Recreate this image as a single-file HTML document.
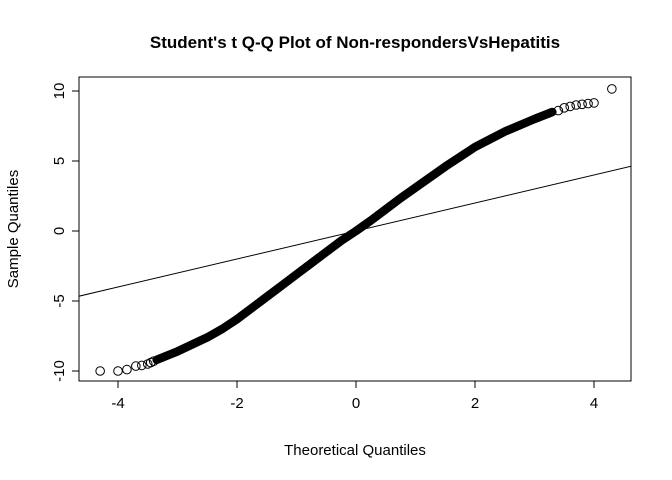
<!DOCTYPE html>
<html><head><meta charset="utf-8"><style>
body{margin:0;background:#fff;}
svg{display:block;font-family:"Liberation Sans",Arial,sans-serif;}
</style></head><body>
<svg id="chart" width="672" height="480">
<text x="355" y="48" text-anchor="middle" font-size="17" font-weight="bold">Student's t Q-Q Plot of Non-respondersVsHepatitis</text>
<rect x="79" y="77" width="552" height="304" fill="none" stroke="#000"/>
<text x="355" y="455" text-anchor="middle" font-size="15">Theoretical Quantiles</text>
<text transform="translate(18,229) rotate(-90)" text-anchor="middle" font-size="15">Sample Quantiles</text>
<g id="axes"></g><g id="marks"></g>
</svg>
<script>
const xTicks=[-4,-2,0,2,4];
const yTicks=[-10,-5,0,5,10];
const curveT=[-3.35,-3,-2.75,-2.5,-2.25,-2,-1.75,-1.5,-1.25,-1,-0.75,-0.5,-0.25,0,0.25,0.5,0.75,1,1.25,1.5,1.75,2,2.25,2.5,2.75,3,3.3];
const curveS=[-9.2,-8.6,-8.1,-7.6,-7.0,-6.3,-5.5,-4.7,-3.9,-3.1,-2.3,-1.5,-0.7,0,0.75,1.55,2.35,3.1,3.85,4.6,5.3,6.0,6.55,7.1,7.55,8.0,8.5];
const tailT=[-4.3,-4.0,-3.85,-3.7,-3.6,-3.5,-3.45,-3.4,3.4,3.5,3.6,3.7,3.8,3.9,4.0,4.3];
const tailS=[-10,-10,-9.9,-9.65,-9.6,-9.5,-9.4,-9.3,8.6,8.8,8.9,9.0,9.05,9.1,9.15,10.15];
const lineIntercept=0, lineSlope=1.0;
const X=v=>356+v*59.5, Y=v=>231-v*14;
const NS='http://www.w3.org/2000/svg';
const ax=document.getElementById('axes'), mk=document.getElementById('marks');
function el(t,a,p){const e=document.createElementNS(NS,t);for(const k in a)e.setAttribute(k,a[k]);p.appendChild(e);return e;}
el('line',{x1:X(-4),x2:X(4),y1:381,y2:381,stroke:'#000'},ax);
xTicks.forEach(v=>{
 const l=el('line',{x1:X(v),x2:X(v),y1:381,y2:388,stroke:'#000'},ax);
 
 
 const t=el('text',{x:X(v),y:408,'text-anchor':'middle','font-size':15},ax);t.textContent=v;
 
 
});
el('line',{x1:79,x2:79,y1:Y(-10),y2:Y(10),stroke:'#000'},ax);
yTicks.forEach(v=>{
 const l=el('line',{x1:72,x2:79,y1:Y(v),y2:Y(v),stroke:'#000'},ax);
 
 
 const t=el('text',{x:0,y:0,'text-anchor':'middle','font-size':15,transform:`translate(64,${Y(v)}) rotate(-90)`},ax);t.textContent=v;
 
 
});
const cp=el('clipPath',{id:'cp'},mk);el('rect',{x:79,y:77,width:552,height:304},cp);
const ql=el('line',{x1:X(-5),y1:Y(lineIntercept-5*lineSlope),x2:X(5),y2:Y(lineIntercept+5*lineSlope),stroke:'#000','clip-path':'url(#cp)'},mk);


const band=el('polyline',{points:curveT.map((t,i)=>X(t)+','+Y(curveS[i])).join(' '),fill:'none',stroke:'#000','stroke-width':8.5,'stroke-linejoin':'round','stroke-linecap':'round'},mk);


tailT.forEach((t,i)=>{
 const c=el('circle',{cx:X(t),cy:Y(tailS[i]),r:4.3,fill:'none',stroke:'#000'},mk);
 
 
});
</script>
</body></html>
